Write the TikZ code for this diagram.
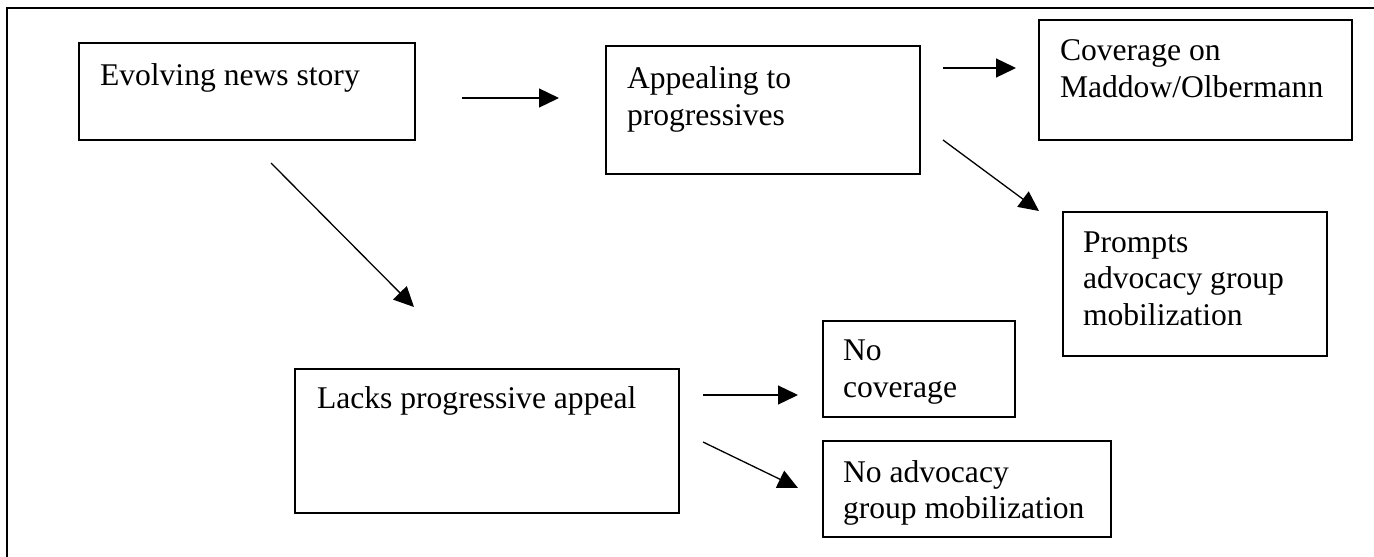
\documentclass[tikz,border=0pt]{standalone}
\usepackage{fontspec}
\setmainfont{Liberation Serif}
\usetikzlibrary{arrows.meta}
\begin{document}
\begin{tikzpicture}[x=1pt,y=-1pt,
  boxnode/.style={draw=black,line width=1.8pt,rectangle,inner sep=0pt,outer sep=0pt},
  txt/.style={anchor=base west,inner sep=0pt,outer sep=0pt,font=\fontsize{31.6}{36.5}\selectfont},
  arr/.style={line width=1.3pt,-{Triangle[length=20pt,width=19pt]}},
  frameline/.style={line width=2pt}]
\useasboundingbox (0,0) rectangle (1374,557);
\fill[white] (0,0) rectangle (1374,557);
% outer frame (only left and top edges visible)
\coordinate (fbl) at (7,560);
\coordinate (ftl) at (7,8);
\coordinate (ftr) at (1378,8);
\draw[frameline] (fbl) -- (ftl) -- (ftr);
% boxes
\node[boxnode,minimum width=336pt,minimum height=97pt] (b1) at (247,91.5) {};
\node[boxnode,minimum width=314pt,minimum height=128pt] (b2) at (763,110) {};
\node[boxnode,minimum width=313pt,minimum height=120pt] (b3) at (1195.5,80) {};
\node[boxnode,minimum width=264pt,minimum height=144pt] (b4) at (1195,284) {};
\node[boxnode,minimum width=384pt,minimum height=144pt] (b5) at (487,441) {};
\node[boxnode,minimum width=192pt,minimum height=96pt] (b6) at (919,369) {};
\node[boxnode,minimum width=288pt,minimum height=96pt] (b7) at (967,489) {};
% texts
\node[txt] (t1) at (100,85) {Evolving news story};
\node[txt] (t2a) at (627,88) {Appealing to};
\node[txt] (t2b) at (627,125) {progressives};
\node[txt] (t3a) at (1060,60) {Coverage on};
\node[txt] (t3b) at (1060,97) {Maddow/Olbermann};
\node[txt] (t4a) at (1083,252) {Prompts};
\node[txt] (t4b) at (1083,288) {advocacy group};
\node[txt] (t4c) at (1083,325) {mobilization};
\node[txt] (t5) at (317,408) {Lacks progressive appeal};
\node[txt] (t6a) at (843,360) {No};
\node[txt] (t6b) at (843,397) {coverage};
\node[txt] (t7a) at (843,482) {No advocacy};
\node[txt] (t7b) at (843,518) {group mobilization};
% arrow end points
\coordinate (a1s) at (462,98);   \coordinate (a1e) at (559,98);
\coordinate (a2s) at (943,68);   \coordinate (a2e) at (1016,68);
\coordinate (a3s) at (943,140);  \coordinate (a3e) at (1039,211);
\coordinate (a4s) at (271,163);  \coordinate (a4e) at (414,307);
\coordinate (a5s) at (703,395);  \coordinate (a5e) at (798,395);
\coordinate (a6s) at (703,442);  \coordinate (a6e) at (798,488);
\draw[arr] (a1s) -- (a1e);
\draw[arr] (a2s) -- (a2e);
\draw[arr] (a3s) -- (a3e);
\draw[arr] (a4s) -- (a4e);
\draw[arr] (a5s) -- (a5e);
\draw[arr] (a6s) -- (a6e);
\end{tikzpicture}
\end{document}
